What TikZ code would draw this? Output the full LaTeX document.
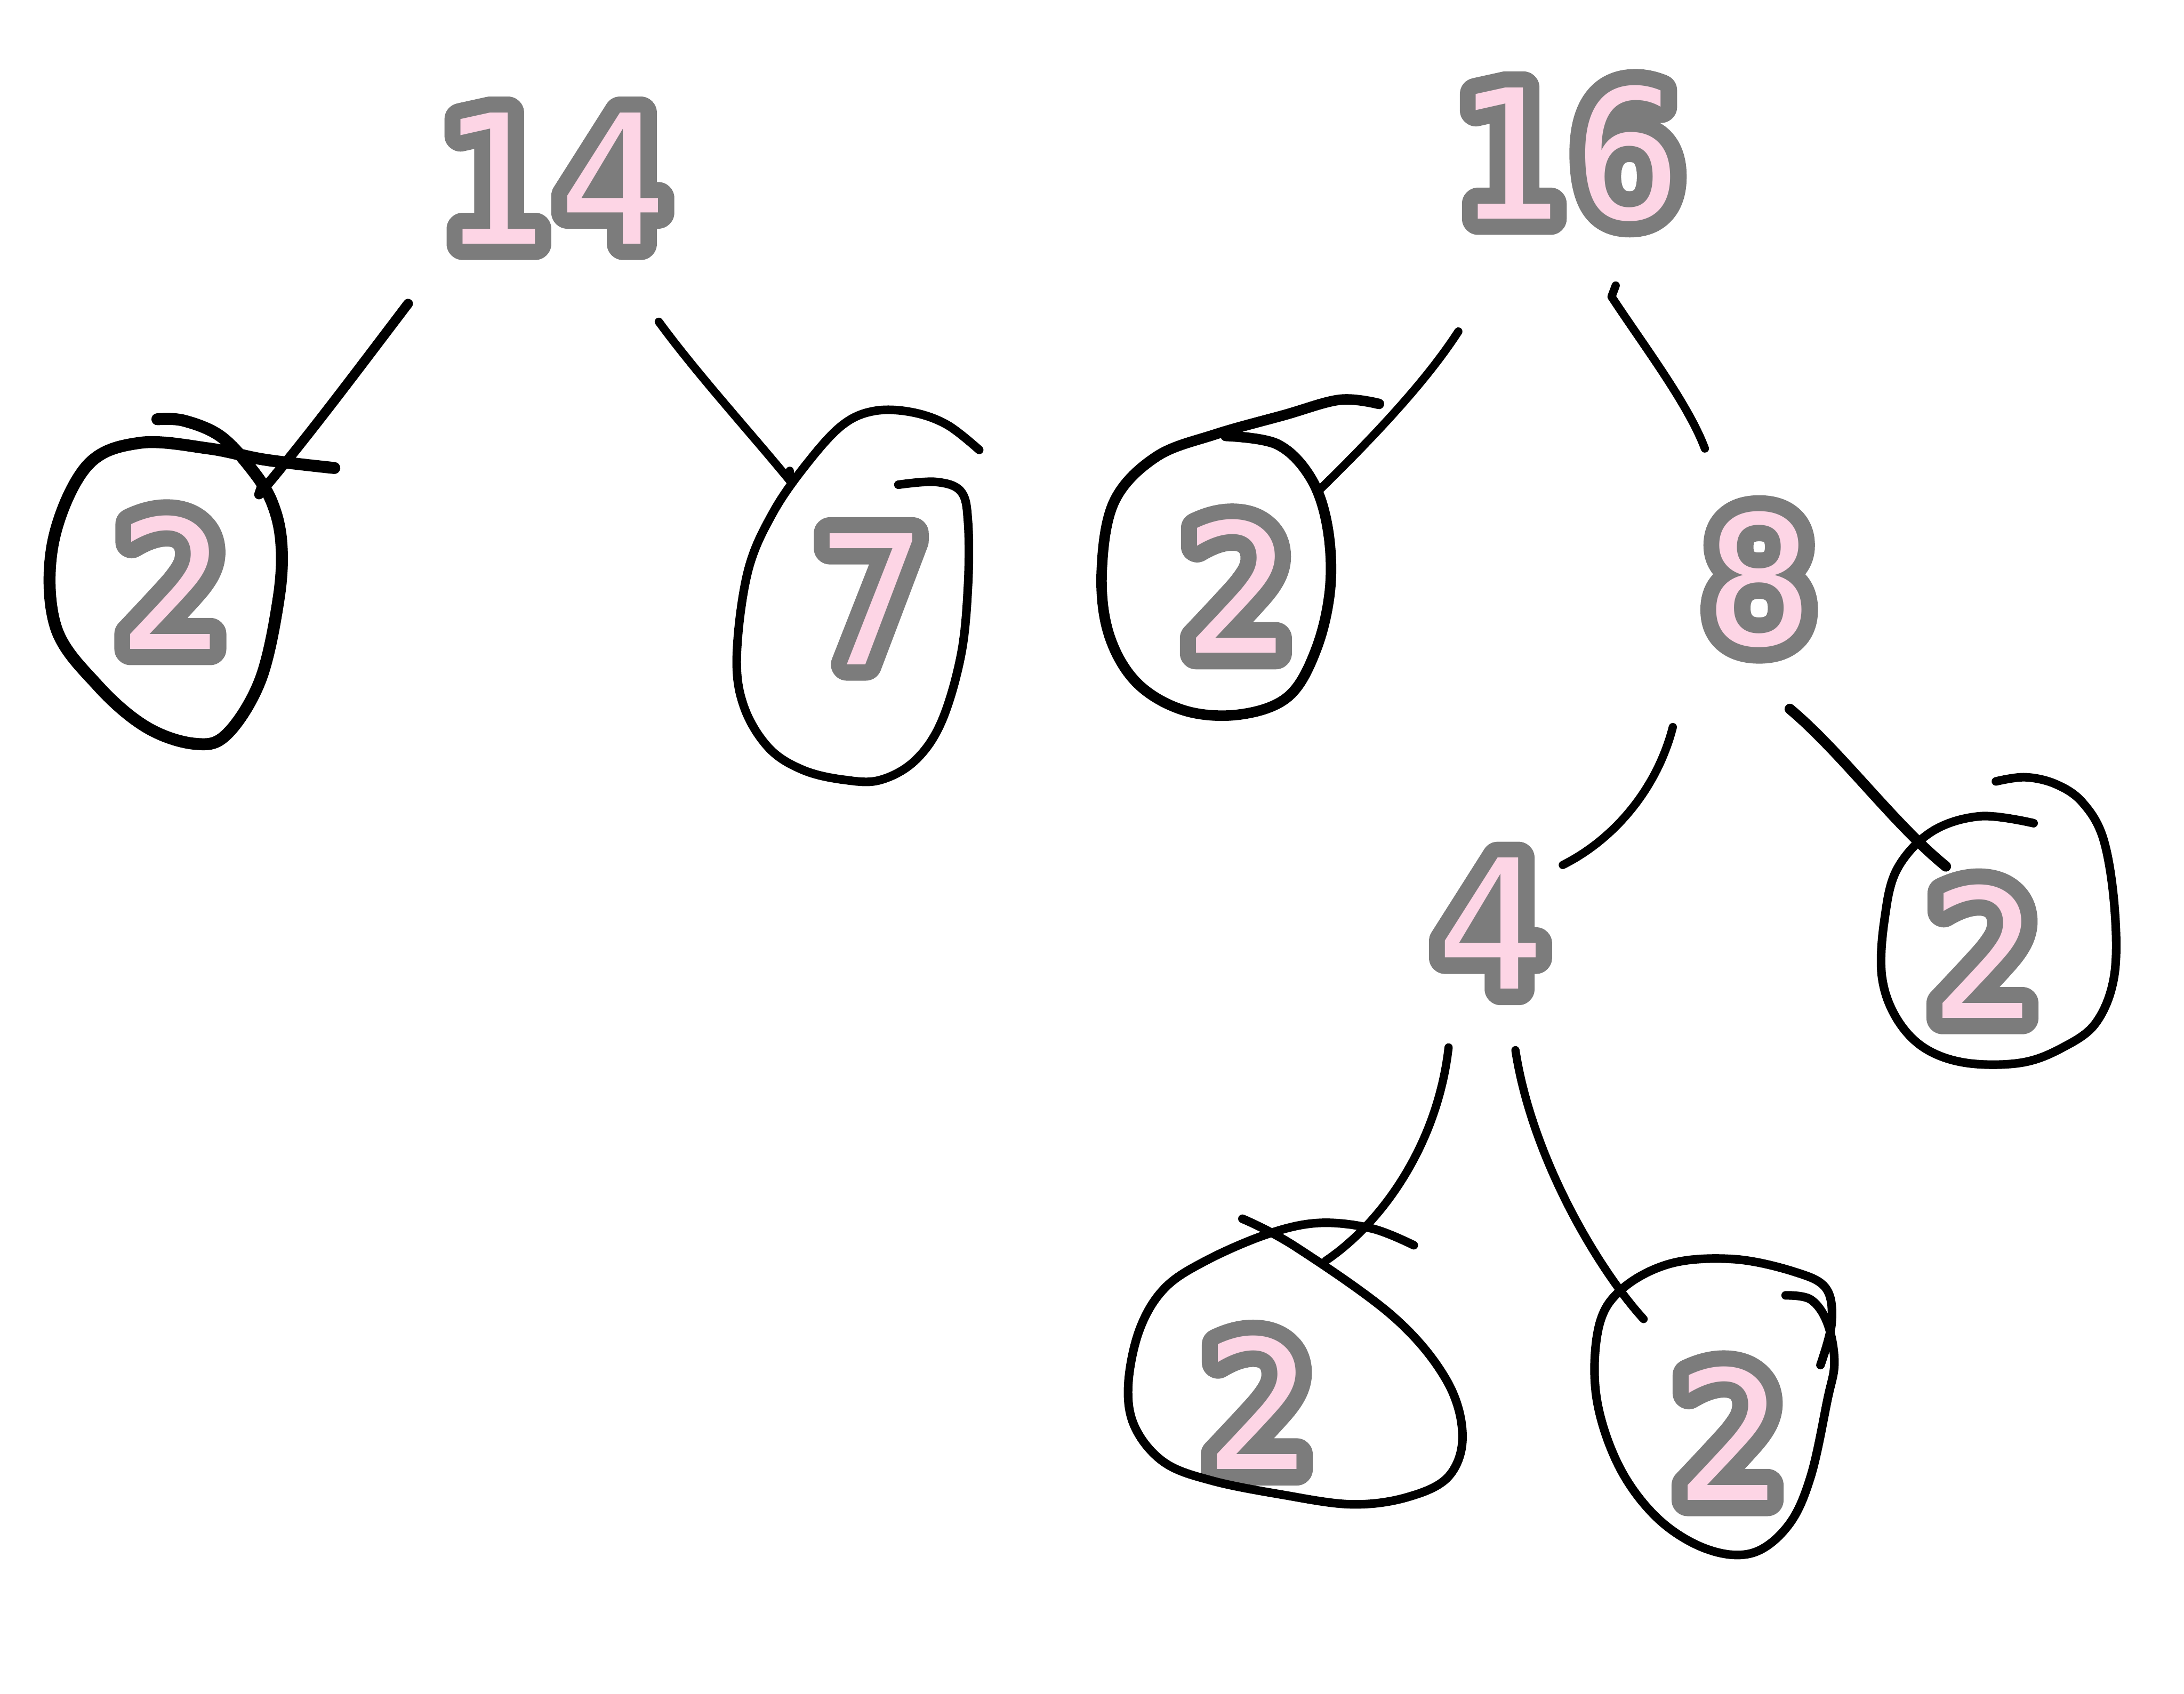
\documentclass[tikz,border=0pt]{standalone}
\usepackage{fontspec}
\newfontfamily\numfont{DejaVu Sans Mono}
\definecolor{numpink}{RGB}{253,213,229}
\definecolor{numgray}{RGB}{124,124,124}
% gray outline under the pink digits
\newcommand{\outlinedigits}[1]{%
  \special{pdf:literal direct 2 Tr 8.6 w 1 j 1 J}%
  \textcolor{numgray}{#1}%
  \special{pdf:literal direct 0 Tr}}
\newcommand{\fnum}[1]{\rlap{\outlinedigits{#1}}#1}

\begin{document}
\begin{tikzpicture}[
    x=0.01306cm, y=-0.01306cm,
    factor/.style={inner sep=0pt, text=numpink, font=\fontsize{48}{48}\selectfont\numfont},
    branch/.style={line width=2.2pt, line cap=round, line join=round},
    ring/.style={line width=2.3pt, line cap=round, line join=round}
]
\useasboundingbox (0,0) rectangle (1568,1216);

% numbers
\node[factor] (n14) at (397,128) {\fnum{1\kern3pt4}};
\node[factor] (n16) at (1126,110) {\fnum{1\kern3pt6}};
\node[factor] (n2a) at (123,418) {\fnum{2}};
\node[factor] (n7)  at (626,430) {\fnum{7}};
\node[factor] (n2b) at (888,421) {\fnum{2}};
\node[factor] (n8)  at (1263,416) {\fnum{8}};
\node[factor] (n4)  at (1070,663) {\fnum{4}};
\node[factor] (n2c) at (1424,683) {\fnum{2}};
\node[factor] (n2d) at (903,1007) {\fnum{2}};
\node[factor] (n2e) at (1241,1029) {\fnum{2}};

% branch ends
\coordinate (s14a) at (293,218);  \coordinate (t14a) at (186,355);
\coordinate (s14b) at (473,231);  \coordinate (t14b) at (567,345);
\coordinate (s16a) at (1047,238); \coordinate (t16a) at (947,352);
\coordinate (s16b) at (1160,205); \coordinate (t16b) at (1224,322);
\coordinate (s8a)  at (1201,522); \coordinate (t8a)  at (1122,621);
\coordinate (s8b)  at (1285,509); \coordinate (t8b)  at (1397,622);
\coordinate (s4a)  at (1040,752); \coordinate (t4a)  at (952,905);
\coordinate (s4b)  at (1088,754); \coordinate (t4b)  at (1180,947);

% branches
\draw[branch, line width=2.6pt] (s14a) .. controls (255,268) and (220,315) .. (t14a) -- ++(2,-6);
\draw[branch] (s14b) .. controls (500,268) and (540,312) .. (t14b) -- ++(0,-7);
\draw[branch] (s16a) .. controls (1025,272) and (990,310) .. (t16a);
\draw[branch] (s16b) -- ++(-3,8) .. controls (1180,248) and (1212,290) .. (t16b);
\draw[branch] (s8a) .. controls (1190,565) and (1160,602) .. (t8a);
\draw[branch, line width=2.8pt] (s8b) .. controls (1322,540) and (1360,592) .. (t8b);
\draw[branch] (s4a) .. controls (1032,822) and (992,878) .. (t4a);
\draw[branch] (s4b) .. controls (1100,832) and (1148,912) .. (t4b);

% rings
\draw[ring, line width=3.2pt] plot[smooth, tension=0.6] coordinates {
  (240,336) (190,330) (150,322) (100,318) (62,335) (38,390) (40,450) (70,492)
  (105,522) (140,534) (163,527) (187,488) (200,430) (202,390) (195,360)
  (180,336) (158,313) (132,302) (113,301)};
\draw[ring] plot[smooth, tension=0.6] coordinates {
  (703,323) (680,305) (655,296) (628,295) (605,305) (580,332) (555,368)
  (537,410) (529,470) (534,507) (552,537) (577,553) (607,560) (632,560)
  (657,546) (676,518) (690,470) (695,420) (695,375) (690,353) (672,346) (645,348)};
\draw[ring, line width=2.8pt] plot[smooth, tension=0.6] coordinates {
  (990,290) (962,287) (922,298) (872,312) (830,328) (800,360) (791,410)
  (796,455) (816,490) (850,510) (890,513) (925,500) (945,466) (955,422)
  (953,378) (941,343) (917,319) (880,313)};
\draw[ring] plot[smooth, tension=0.6] coordinates {
  (1460,591) (1422,586) (1387,597) (1362,624) (1353,660) (1351,700)
  (1361,730) (1381,752) (1411,763) (1451,763) (1481,752) (1505,734)
  (1518,700) (1518,650) (1510,602) (1495,576) (1476,563) (1454,558) (1433,561)};
\draw[ring] plot[smooth, tension=0.6] coordinates {
  (892,875) (930,895) (1000,945) (1038,990) (1050,1030) (1040,1060)
  (1010,1075) (970,1080) (920,1073) (870,1063) (836,1050) (815,1025)
  (810,995) (818,955) (836,925) (866,905) (910,886) (947,878) (985,882) (1015,894)};
\draw[ring] plot[smooth, tension=0.6] coordinates {
  (1282,930) (1300,933) (1312,950) (1317,978) (1312,1005) (1300,1060)
  (1284,1095) (1258,1115) (1225,1112) (1190,1090) (1162,1052) (1146,1002)
  (1148,952) (1165,925) (1200,907) (1245,904) (1288,913) (1311,925)
  (1315,950) (1307,980)};
\end{tikzpicture}
\end{document}
